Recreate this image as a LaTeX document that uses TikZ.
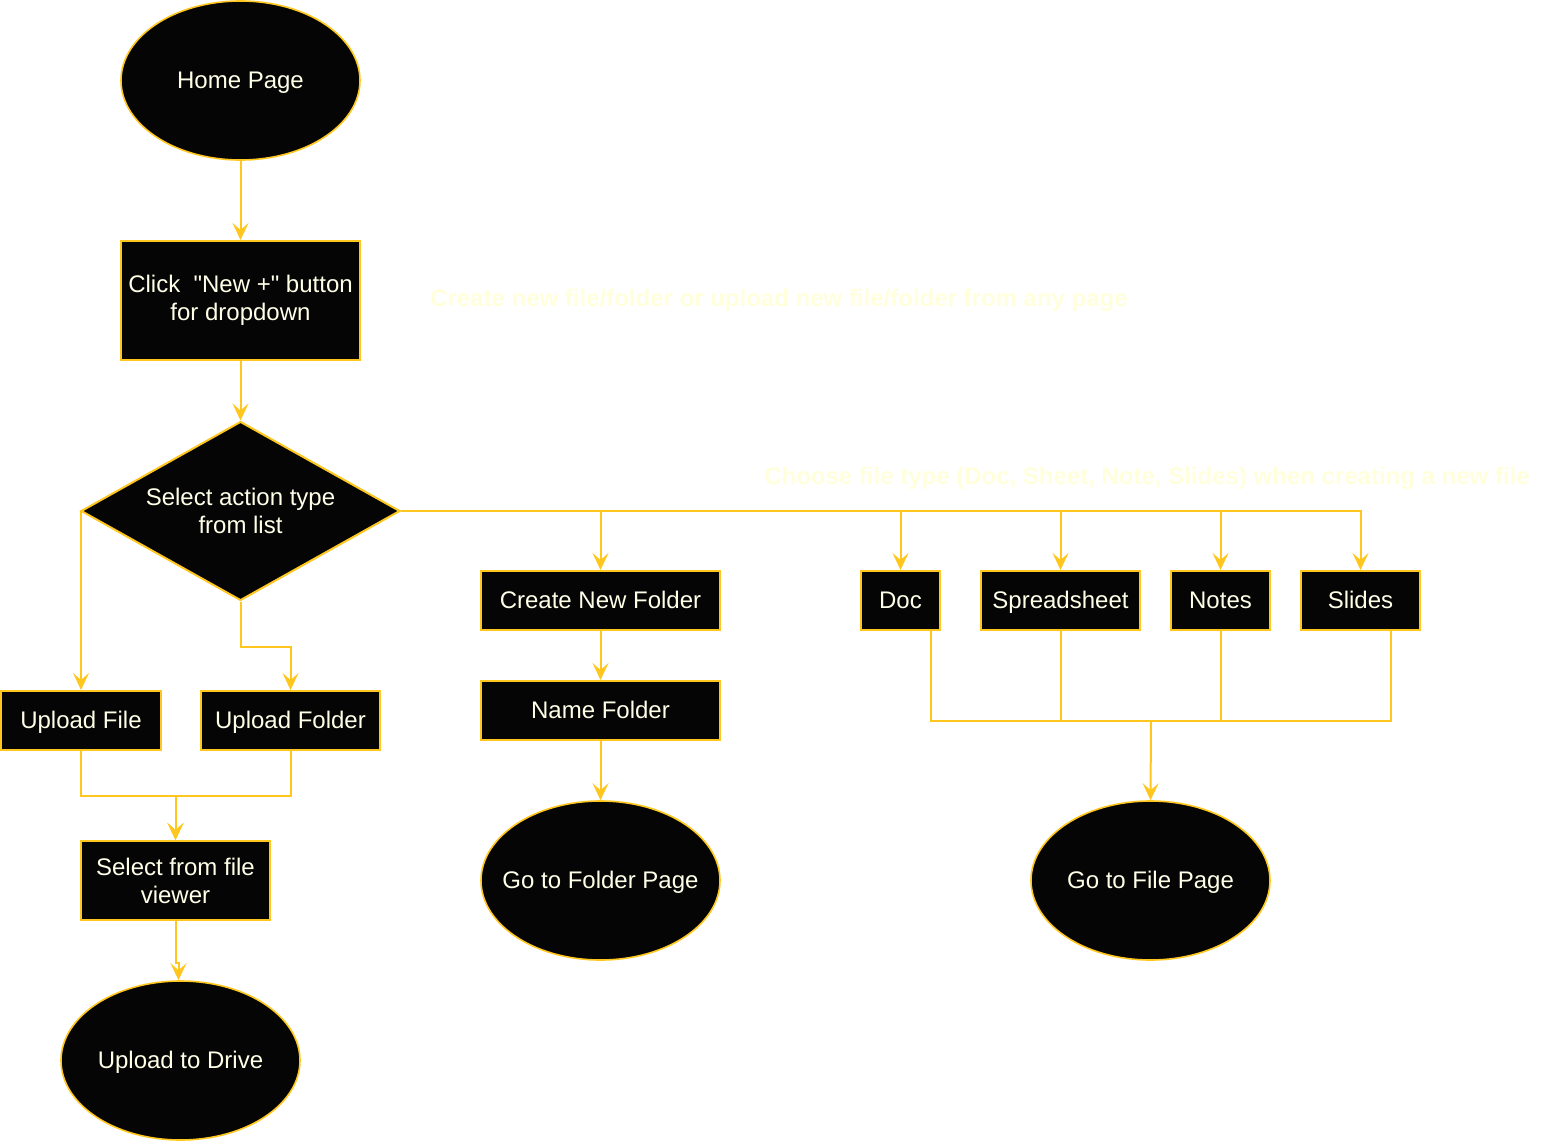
\documentclass[tikz,border=0pt]{standalone}
\usepackage{fontspec}
\setmainfont{Liberation Sans}
\usetikzlibrary{shapes.geometric,arrows.meta}
\definecolor{stroke}{HTML}{FFC61E}
\definecolor{fillc}{HTML}{050505}
\definecolor{txt}{HTML}{FFFFE8}
\definecolor{faint}{HTML}{FFFFDC}
\newcommand{\zw}[1]{\makebox[0pt][c]{#1}}
\tikzset{
  base/.style={draw=stroke, fill=fillc, text=txt, inner sep=0pt, align=center,
    font=\fontsize{24pt}{28pt}\selectfont},
  one/.style={text height=21.7pt, text depth=5.1pt},
  boxn/.style={base, rectangle, line width=2pt},
  ell/.style={base, one, ellipse, line width=1.6pt, minimum width=239pt, minimum height=159pt},
  dia/.style={base, diamond, line width=2pt, aspect=1.78, minimum width=319pt, minimum height=179pt},
  arr/.style={draw=stroke, line width=2pt, -{Stealth[length=17pt,width=16pt,inset=7pt]}},
  ln/.style={draw=stroke, line width=2pt},
  note/.style={text=faint, font=\fontsize{24pt}{28pt}\selectfont\bfseries, inner sep=0pt}
}
\begin{document}
\begin{tikzpicture}[x=1pt,y=-1pt]
\useasboundingbox (0,0) rectangle (1542,1142);
% nodes
\node[ell] (home) at (240.5,80.5) {\zw{Home Page}};
\node[boxn, minimum width=239pt, minimum height=119pt] (click) at (240.5,300.5) {Click\ \ \textquotedbl New +\textquotedbl\ button\\for dropdown};
\node[dia] (sel) at (240.5,511) {Select action type\\from list};
\node[boxn, one, minimum width=160pt, minimum height=59pt] (ufi) at (81,720.5) {Upload File};
\node[boxn, one, minimum width=179pt, minimum height=59pt] (ufo) at (290.5,720.5) {Upload Folder};
\node[boxn, minimum width=189pt, minimum height=79pt] (sfv) at (175.5,880.5) {Select from file\\viewer};
\node[ell] (drive) at (180.5,1060.5) {\zw{Upload to Drive}};
\node[boxn, one, minimum width=239pt, minimum height=59pt] (cnf) at (600.5,600.5) {Create New Folder};
\node[boxn, one, minimum width=239pt, minimum height=59pt] (nf) at (600.5,710.5) {Name Folder};
\node[ell] (fold) at (600.5,880.5) {\zw{Go to Folder Page}};
\node[boxn, one, minimum width=79pt, minimum height=59pt] (doc) at (900.5,600.5) {Doc};
\node[boxn, one, minimum width=159pt, minimum height=59pt] (sheet) at (1060.5,600.5) {Spreadsheet};
\node[boxn, one, minimum width=99pt, minimum height=59pt] (notes) at (1220.5,600.5) {Notes};
\node[boxn, one, minimum width=119pt, minimum height=59pt] (slides) at (1360.5,600.5) {Slides};
\node[ell] (file) at (1150.5,880.5) {\zw{Go to File Page}};
\coordinate (jn) at (1151,721);
% notes
\node[note] (n1) at (779,300) {Create new file/folder or upload new file/folder from any page};
\node[note] (n2) at (1147,478) {Choose file type (Doc, Sheet, Note, Slides) when creating a new file};
% connectors
\draw[arr] (home) -- (click);
\draw[arr] (click) -- (sel);
\draw[arr] (sel.west) -| (ufi.north);
\draw[arr] (sel.south) -- ++(0,45) -| (ufo.north);
\draw[arr] (ufi.south) -- ++(0,45) -| (sfv.north);
\draw[arr] (ufo.south) -- ++(0,45) -| (sfv.north);
\draw[arr] (sfv.south) -- ++(0,42) -| ([xshift=-2pt]drive.north);
\draw[arr] (sel.east) -| (cnf.north);
\draw[arr] (sel.east) -| (doc.north);
\draw[arr] (sel.east) -| (sheet.north);
\draw[arr] (sel.east) -| (notes.north);
\draw[arr] (sel.east) -| (slides.north);
\draw[arr] (cnf) -- (nf);
\draw[arr] (nf) -- (fold);
\draw[ln] ([xshift=30.5pt]doc.south) |- (jn);
\draw[ln] (sheet.south) |- (jn);
\draw[ln] (notes.south) |- (jn);
\draw[ln] ([xshift=30.5pt]slides.south) |- (jn);
\draw[arr] (jn) -- (file.north);
\end{tikzpicture}
\end{document}
